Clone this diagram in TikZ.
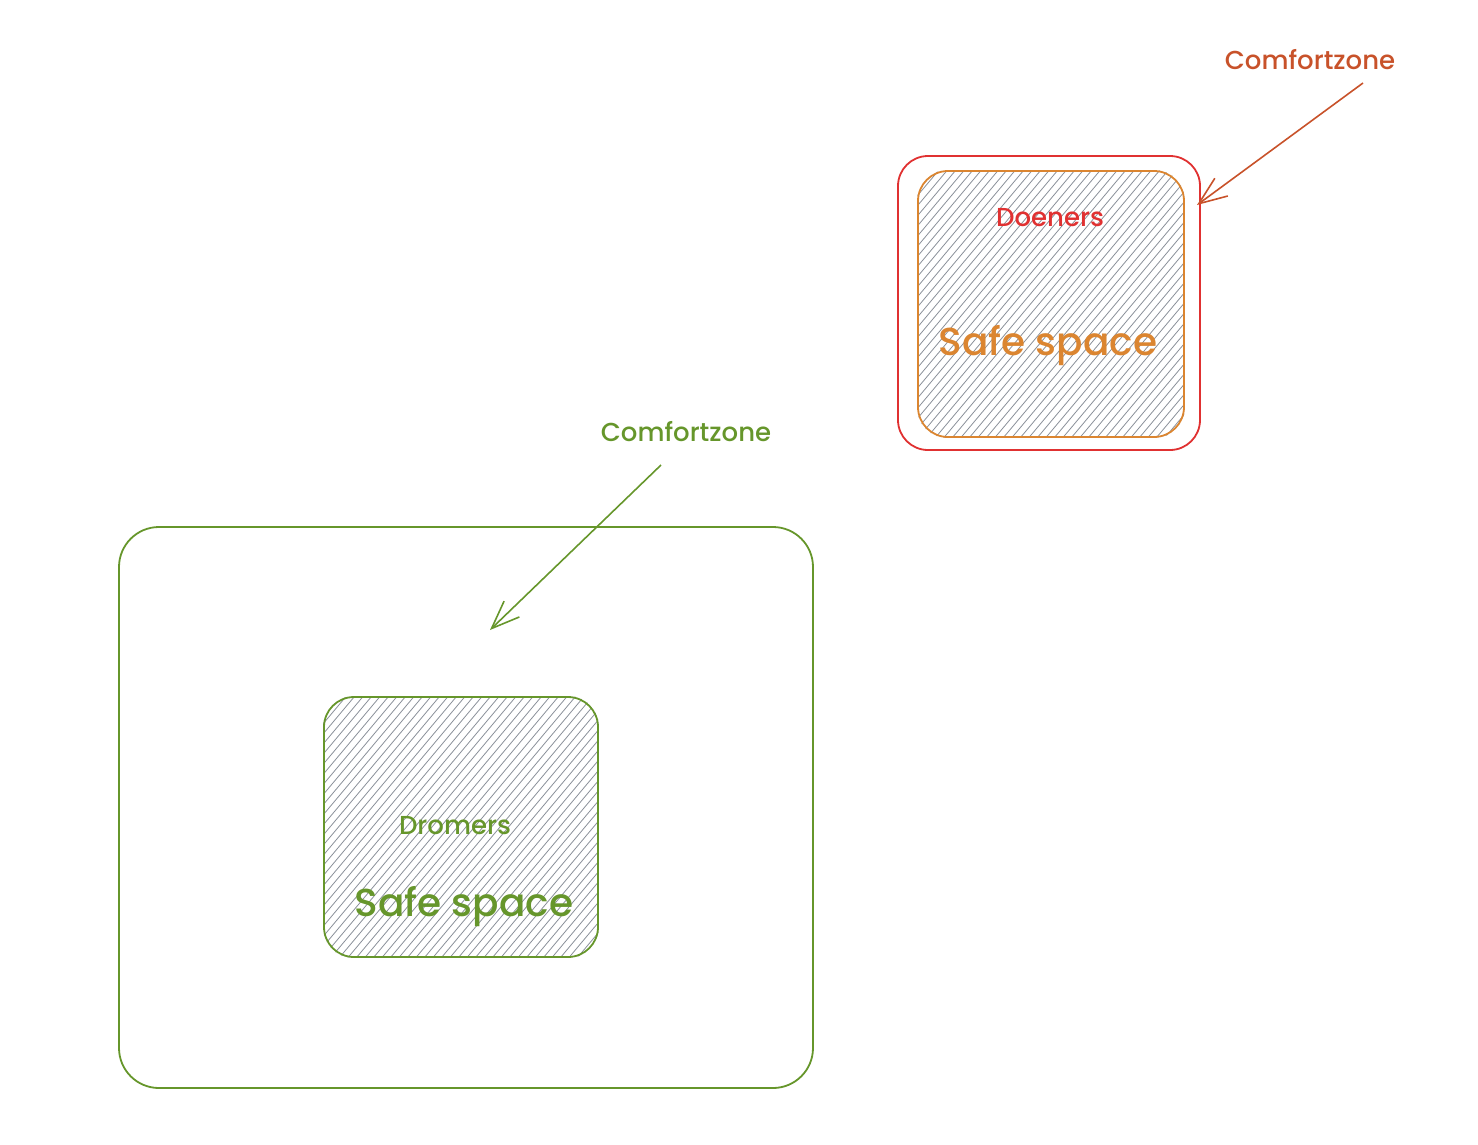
\documentclass[tikz,border=0pt]{standalone}
\usepackage{fontspec}
\setmainfont{Poppins}[BoldFont={Poppins Medium}]
\usetikzlibrary{arrows.meta,backgrounds}
\definecolor{cred}{HTML}{E03131}
\definecolor{corange}{HTML}{DB8530}
\definecolor{crust}{HTML}{C8522A}
\definecolor{cgreen}{HTML}{66962B}
\definecolor{chatch}{HTML}{8A9099}
\tikzset{
  zone/.style={draw, line width=1.8pt, rounded corners=#1},
  hatch/.style={draw=chatch, line width=0.8pt},
  lbl/.style={font=\fontsize{26}{30}\bfseries, inner sep=0pt},
  big/.style={font=\fontsize{39}{44}\bfseries, inner sep=0pt},
  pointer/.style={line width=1.6pt, -{Straight Barb[length=28pt,width=22pt,line width=1.6pt]}}
}
\newcommand{\hatchbox}[2]{%
  \begin{scope}[on background layer]
   \begin{scope}
    \clip[rounded corners=#2] (#1.south west) rectangle (#1.north east);
    \foreach \i in {-420,-411.5,...,420}
      \draw[hatch] ([xshift=\i pt]#1.center) ++(130:320) -- ++(-50:640);
   \end{scope}
  \end{scope}}
\begin{document}
\begin{tikzpicture}[x=1pt,y=-1pt]
\useasboundingbox (0,0) rectangle (1478,1144);
% Doeners
\node[zone=30pt, cred, minimum width=302pt, minimum height=294pt] (outerR) at (1049,303) {};
\node[zone=30pt, corange, minimum width=266pt, minimum height=266pt] (innerR) at (1051,304) {};
\hatchbox{innerR}{30pt}
\node[lbl, text=cred] (doeners) at (1050,218) {Doeners};
\node[big, text=corange] (safeR) at (1048,346) {Safe space};
\node[lbl, text=crust] (czR) at (1310,60) {Comfortzone};
\coordinate (czRfrom) at (1363,83);
\coordinate (czRto) at (1197,205);
\draw[pointer, crust] (czRfrom) -- (czRto);
% Dromers
\node[zone=40pt, cgreen, minimum width=694pt, minimum height=561pt] (outerG) at (466,807.5) {};
\node[zone=30pt, cgreen, minimum width=274pt, minimum height=260pt] (innerG) at (461,827) {};
\hatchbox{innerG}{30pt}
\node[lbl, text=cgreen] (dromers) at (455,826) {Dromers};
\node[big, text=cgreen] (safeG) at (464,907) {Safe space};
\node[lbl, text=cgreen] (czG) at (686,432) {Comfortzone};
\coordinate (czGfrom) at (661,465);
\coordinate (czGto) at (490,630);
\draw[pointer, cgreen] (czGfrom) -- (czGto);
\end{tikzpicture}
\end{document}
